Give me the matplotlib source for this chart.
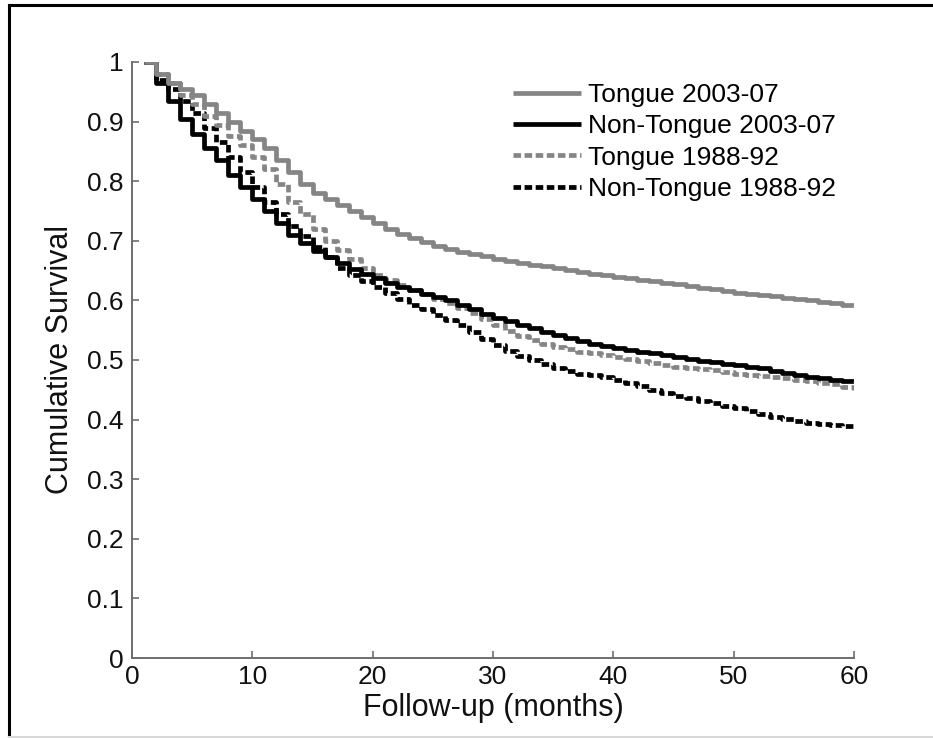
import numpy as np
import matplotlib
matplotlib.use("Agg")
import matplotlib.pyplot as plt
from matplotlib.lines import Line2D

plt.rcParams["font.family"] = ["Liberation Sans", "DejaVu Sans"]

# Follow-up time (months) and Kaplan-Meier survival estimates per group
months = list(range(1, 61))

tongue_0307 = [1.000, 0.980, 0.965, 0.955, 0.945, 0.930, 0.915, 0.900, 0.885, 0.870,
               0.855, 0.835, 0.815, 0.795, 0.780, 0.770, 0.760, 0.750, 0.740, 0.730,
               0.720, 0.712, 0.705, 0.698, 0.692, 0.687, 0.682, 0.678, 0.674, 0.670,
               0.666, 0.663, 0.660, 0.657, 0.654, 0.651, 0.648, 0.645, 0.643, 0.640,
               0.637, 0.635, 0.632, 0.629, 0.627, 0.624, 0.621, 0.619, 0.616, 0.613,
               0.611, 0.609, 0.607, 0.604, 0.602, 0.600, 0.598, 0.596, 0.593, 0.590]

nontongue_0307 = [1.000, 0.965, 0.935, 0.905, 0.880, 0.855, 0.835, 0.810, 0.790, 0.770,
                  0.750, 0.730, 0.710, 0.696, 0.683, 0.672, 0.662, 0.653, 0.645, 0.638,
                  0.630, 0.623, 0.617, 0.611, 0.606, 0.600, 0.593, 0.586, 0.578, 0.571,
                  0.565, 0.559, 0.553, 0.547, 0.542, 0.537, 0.532, 0.527, 0.523, 0.520,
                  0.517, 0.514, 0.511, 0.508, 0.505, 0.502, 0.499, 0.497, 0.494, 0.492,
                  0.489, 0.486, 0.482, 0.478, 0.475, 0.472, 0.470, 0.467, 0.465, 0.463]

tongue_8892 = [1.000, 0.980, 0.965, 0.945, 0.930, 0.910, 0.895, 0.875, 0.860, 0.840,
               0.820, 0.795, 0.765, 0.745, 0.720, 0.700, 0.685, 0.670, 0.655, 0.643,
               0.634, 0.626, 0.618, 0.610, 0.602, 0.595, 0.587, 0.579, 0.569, 0.558,
               0.548, 0.540, 0.533, 0.527, 0.522, 0.518, 0.514, 0.511, 0.508, 0.505,
               0.502, 0.499, 0.495, 0.492, 0.489, 0.487, 0.485, 0.483, 0.480, 0.477,
               0.475, 0.473, 0.471, 0.469, 0.467, 0.465, 0.462, 0.459, 0.455, 0.450]

nontongue_8892 = [1.000, 0.970, 0.955, 0.935, 0.915, 0.890, 0.865, 0.840, 0.815, 0.790,
                  0.765, 0.745, 0.725, 0.708, 0.690, 0.672, 0.655, 0.643, 0.633, 0.622,
                  0.612, 0.602, 0.593, 0.585, 0.576, 0.567, 0.558, 0.547, 0.535, 0.525,
                  0.515, 0.507, 0.500, 0.493, 0.487, 0.481, 0.476, 0.474, 0.471, 0.467,
                  0.462, 0.456, 0.450, 0.445, 0.440, 0.436, 0.432, 0.428, 0.423, 0.419,
                  0.414, 0.409, 0.405, 0.401, 0.398, 0.395, 0.393, 0.391, 0.389, 0.387]

series_labels = ["Tongue 2003-07", "Non-Tongue 2003-07", "Tongue 1988-92", "Non-Tongue 1988-92"]
x_ticks = [0, 10, 20, 30, 40, 50, 60]
y_ticks = [0, 0.1, 0.2, 0.3, 0.4, 0.5, 0.6, 0.7, 0.8, 0.9, 1]
y_tick_labels = ["0", "0.1", "0.2", "0.3", "0.4", "0.5", "0.6", "0.7", "0.8", "0.9", "1"]

GRAY = "#858585"
LW = 3.4
DOT = (0, (1.6, 0.75))

fig = plt.figure(figsize=(9.33, 7.38), dpi=100)
ax = fig.add_axes([0.1415, 0.1084, 0.7738, 0.8076])

styles = [
    dict(color=GRAY, linestyle="-"),
    dict(color="black", linestyle="-"),
    dict(color=GRAY, linestyle=DOT),
    dict(color="black", linestyle=DOT),
]

# draw back-to-front so the recent cohorts sit on top
for vals, st in zip([nontongue_8892, tongue_8892, nontongue_0307, tongue_0307],
                    [styles[3], styles[2], styles[1], styles[0]]):
    ax.plot(months, vals, drawstyle="steps-post", lw=LW, solid_capstyle="butt",
            dash_capstyle="butt", **st)

ax.set_xlim(0, 60)
ax.set_ylim(0, 1)
ax.set_xticks(x_ticks)
ax.set_yticks(y_ticks)
ax.set_yticklabels(y_tick_labels)

for side in ("top", "right"):
    ax.spines[side].set_visible(False)
for side in ("left", "bottom"):
    ax.spines[side].set_color("#6e6e6e")
    ax.spines[side].set_linewidth(1.4)
ax.tick_params(direction="in", length=5, width=1.2, color="#6e6e6e",
               labelsize=19, labelcolor="#111111")
ax.tick_params(axis="y", pad=6)
ax.tick_params(axis="x", pad=5)

ax.set_xlabel("Follow-up (months)", fontsize=22, labelpad=3, color="#111111")
ax.set_ylabel("Cumulative Survival", fontsize=22, labelpad=9, color="#111111")

handles = [Line2D([], [], lw=LW, solid_capstyle="butt", dash_capstyle="butt", **st)
           for st in styles]
leg = ax.legend(handles, series_labels, loc="upper left",
                bbox_to_anchor=(0.528, 0.965), frameon=False, fontsize=19,
                handlelength=2.55, handletextpad=0.3, labelspacing=0.28,
                borderaxespad=0.0, borderpad=0.0)

# outer frame around the figure
fig.add_artist(Line2D([9 / 933, 1.0], [1 - 5 / 738, 1 - 5 / 738],
                      transform=fig.transFigure, color="black", lw=2.2))
fig.add_artist(Line2D([9 / 933, 9 / 933], [1 - 5 / 738, 0.0],
                      transform=fig.transFigure, color="black", lw=2.2))
fig.add_artist(Line2D([9 / 933, 1.0], [1.2 / 738, 1.2 / 738],
                      transform=fig.transFigure, color="#d8d8d8", lw=1.5))

fig.savefig("out.png", dpi=100)
